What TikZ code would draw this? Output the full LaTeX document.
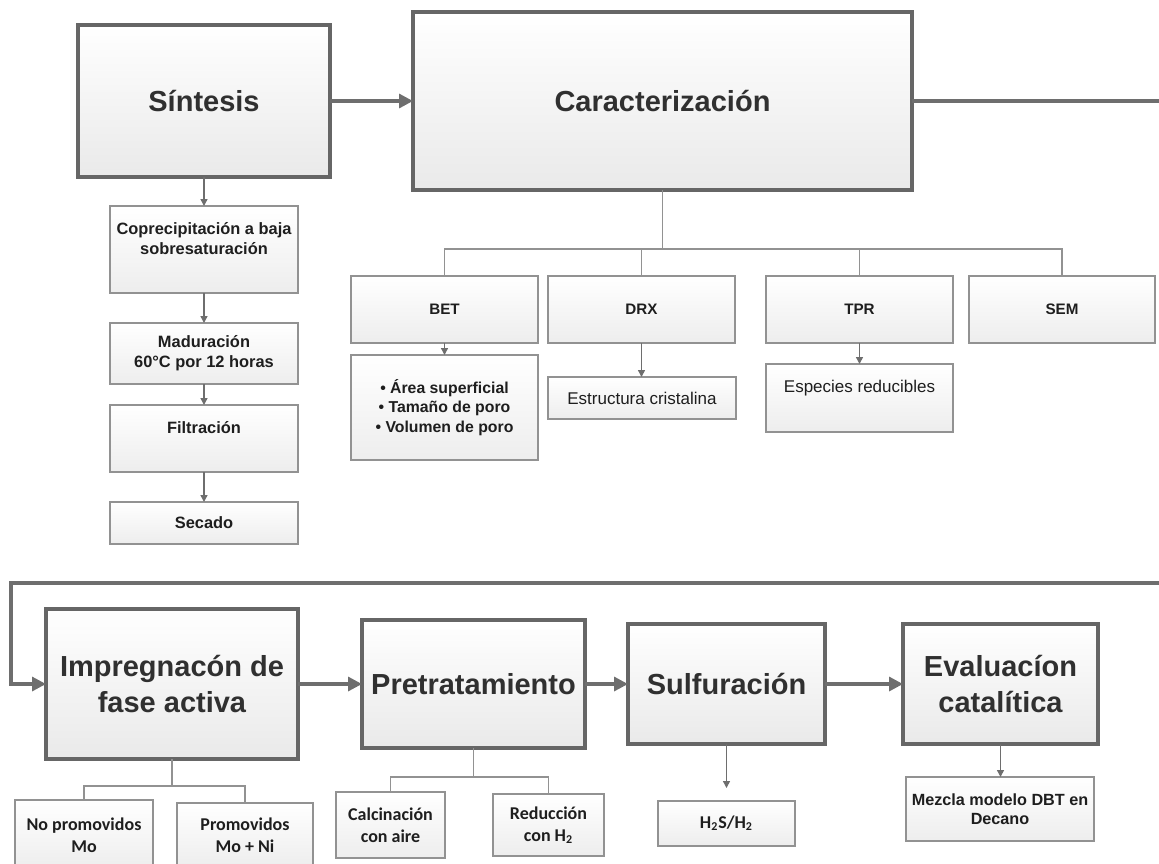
\documentclass[tikz,border=0pt]{standalone}
\usepackage{fontspec}
\setmainfont{Liberation Sans}
\newfontfamily\calib{Carlito}
\usetikzlibrary{arrows.meta}

\definecolor{boxline}{HTML}{666666}
\definecolor{subline}{HTML}{929292}
\definecolor{arrcol}{HTML}{6E6E6E}
\definecolor{bigtxt}{HTML}{303030}
\definecolor{smalltxt}{HTML}{1E1E1E}

\begin{document}
\begin{tikzpicture}[
  x=0.5pt, y=-0.5pt,
  etapa/.style={draw=boxline, line width=1.6pt, top color=white, bottom color=gray!17,
                anchor=north west, inner sep=0pt, outer sep=0pt, align=center, text=bigtxt,
                font=\fontsize{14.5}{18}\selectfont\bfseries},
  paso/.style={draw=subline, line width=0.75pt, top color=white, bottom color=gray!14,
               anchor=north west, inner sep=0pt, outer sep=0pt, align=center, text=smalltxt,
               font=\fontsize{8.2}{10}\selectfont\bfseries},
  tec/.style={paso, minimum width=93.5pt, minimum height=33.5pt,
              font=\fontsize{7.6}{9}\selectfont\bfseries},
  res/.style={paso, font=\fontsize{8.5}{10}\selectfont},
  opc/.style={paso, font=\calib\fontsize{9}{11}\selectfont\bfseries},
  arr/.style={draw=arrcol, line width=1.6pt, -{Triangle[length=7pt,width=7pt]}},
  sarr/.style={draw=arrcol, line width=0.7pt, -{Triangle[length=3.5pt,width=3.5pt]}},
  flow/.style={draw=arrcol, line width=1.6pt},
  lin/.style={draw=subline, line width=0.75pt},
]
\useasboundingbox (0,0) rectangle (1159,863);
\clip (0,0) rectangle (1159,863);

%% ---- Top row ----
\node[etapa, minimum width=126pt, minimum height=76pt] (sin) at (78,25) {Síntesis};
\node[etapa, minimum width=249.5pt, minimum height=89pt] (car) at (413,12) {Caracterización};
\coordinate (rout) at (1159,101);

\draw[arr] (sin.east) -- (car.west);
\draw[flow] (car.east) -- (car.east -| rout);

%% ---- Síntesis steps ----
\node[paso, minimum width=94pt, minimum height=43.5pt, text height=16pt, text depth=11.5pt]
  (cop) at (110,206) {Coprecipitación a baja\\sobresaturación};
\node[paso, minimum width=94pt, minimum height=30.5pt] (mad) at (110,323)
  {Maduración\\60°C por 12 horas};
\node[paso, minimum width=94pt, minimum height=33.5pt, text height=6pt, text depth=11.5pt]
  (fil) at (110,405) {Filtración};
\node[paso, minimum width=94pt, minimum height=21pt] (sec) at (110,502) {Secado};

\draw[sarr] (sin.south) -- (sin.south |- cop.north);
\draw[sarr] (cop.south) -- (mad.north);
\draw[sarr] (mad.south) -- (fil.north);
\draw[sarr] (fil.south) -- (sec.north);

%% ---- Caracterización techniques ----
\coordinate (cbus) at (663,249);
\node[tec] (bet) at (351,276) {BET};
\node[tec] (drx) at (548,276) {DRX};
\node[tec] (tpr) at (766,276) {TPR};
\node[tec, minimum width=93pt] (sem) at (969,276) {SEM};

\draw[lin] (car.south) -- (car.south |- cbus);
\draw[lin] (bet.north) -- (bet.north |- cbus) -- (sem.north |- cbus) -- (sem.north);
\draw[lin] (drx.north) -- (drx.north |- cbus);
\draw[lin] (tpr.north) -- (tpr.north |- cbus);

\node[paso, minimum width=93.5pt, minimum height=52.5pt, font=\fontsize{7.9}{9.75}\selectfont\bfseries]
  (area) at (351,355) {• Área superficial\\• Tamaño de poro\\• Volumen de poro};
\node[res, minimum width=94pt, minimum height=21pt] (estr) at (548,377) {Estructura cristalina};
\node[res, minimum width=93.5pt, minimum height=34pt, text height=6pt, text depth=12pt]
  (espe) at (766,364) {Especies reducibles};

\draw[sarr] (bet.south) -- (bet.south |- area.north);
\draw[sarr] (drx.south) -- (drx.south |- estr.north);
\draw[sarr] (tpr.south) -- (tpr.south |- espe.north);

%% ---- Bottom row ----
\coordinate (rin) at (1159,583);
\coordinate (lft) at (11,583);
\node[etapa, minimum width=126pt, minimum height=75pt] (imp) at (46,609)
  {Impregnacón de\\fase activa};
\node[etapa, minimum width=111.5pt, minimum height=64pt] (pre) at (362,620) {Pretratamiento};
\node[etapa, minimum width=98.5pt, minimum height=60pt] (sul) at (628,624) {Sulfuración};
\node[etapa, minimum width=97.5pt, minimum height=60pt] (eva) at (903,624)
  {Evaluacíon\\catalítica};

\draw[arr] (rin) -- (lft) |- (imp.west);
\draw[arr] (imp.east) -- (pre.west);
\draw[arr] (pre.east) -- (sul.west);
\draw[arr] (sul.east) -- (eva.west);

%% ---- Impregnación options ----
\coordinate (ibus) at (172,786);
\node[opc, minimum width=69pt, minimum height=35pt] (nop) at (15,800) {No promovidos\\Mo};
\node[opc, minimum width=68pt, minimum height=32pt] (pro) at (177,803) {Promovidos\\Mo + Ni};

\draw[lin] (imp.south) -- (imp.south |- ibus);
\draw[lin] (nop.north) -- (nop.north |- ibus) -- (pro.north |- ibus) -- (pro.north);

%% ---- Pretratamiento options ----
\coordinate (pbus) at (474,777);
\node[opc, minimum width=54.5pt, minimum height=33pt] (cal) at (336,792) {Calcinación\\con aire};
\node[opc, minimum width=55.5pt, minimum height=31pt] (red) at (493,794)
  {Reducción\\con H\textsubscript{2}};

\draw[lin] (pre.south) -- (pre.south |- pbus);
\draw[lin] (cal.north) -- (cal.north |- pbus) -- (red.north |- pbus) -- (red.north);

%% ---- Sulfuración and evaluation ----
\node[opc, minimum width=68.5pt, minimum height=22.5pt] (hss) at (658,801)
  {H\textsubscript{2}S/H\textsubscript{2}};
\node[paso, minimum width=94pt, minimum height=32pt, font=\fontsize{8.1}{9.5}\selectfont\bfseries]
  (mez) at (906,777) {Mezcla modelo DBT en\\Decano};

\draw[sarr, shorten >=6.5pt] (sul.south) -- (sul.south |- hss.north);
\draw[sarr] (eva.south) -- (eva.south |- mez.north);

\end{tikzpicture}
\end{document}
